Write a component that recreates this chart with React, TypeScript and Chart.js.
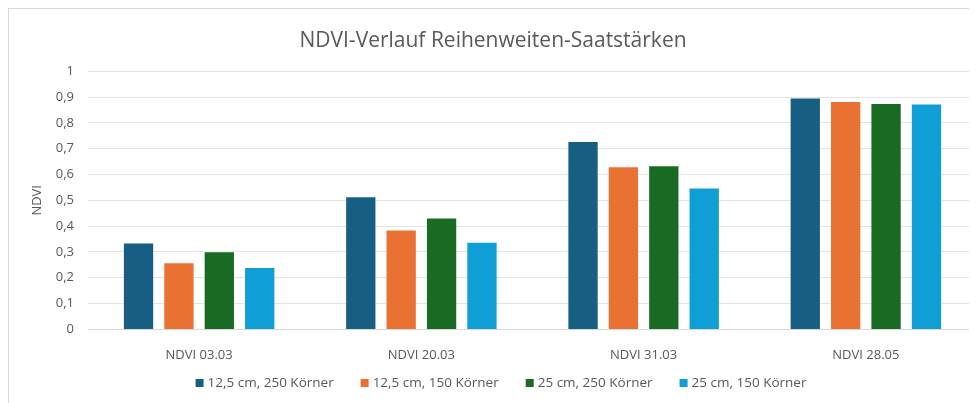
import React, { useEffect, useRef } from "react";
import { Chart, registerables } from "chart.js";

Chart.register(...registerables);

const categories = ["NDVI 03.03", "NDVI 20.03", "NDVI 31.03", "NDVI 28.05"];
const seriesNames = [
  "12,5 cm, 250 Körner",
  "12,5 cm, 150 Körner",
  "25 cm, 250 Körner",
  "25 cm, 150 Körner",
];
const s1 = [0.337, 0.516, 0.73, 0.898];
const s2 = [0.26, 0.387, 0.632, 0.885];
const s3 = [0.303, 0.433, 0.636, 0.877];
const s4 = [0.242, 0.339, 0.55, 0.875];
const colors = ["#175F82", "#E97132", "#196B24", "#0F9ED5"];
const titleText = "NDVI-Verlauf Reihenweiten-Saatstärken";
const yTitle = "NDVI";

const FONT = "'Open Sans', sans-serif";
const TXT = "#595959";
const FS = 13;
const LFS = 13.5;

const legendPlugin = {
  id: "bottomLegend",
  afterDraw(chart: any) {
    const ctx = chart.ctx;
    ctx.save();
    ctx.font = `${LFS}px ${FONT}`;
    ctx.textBaseline = "middle";
    const box = 8;
    const gapBox = 4;
    const gapItem = 27;
    const items = chart.data.datasets.map((d: any) => ({
      label: d.label,
      color: d.backgroundColor,
      w: box + gapBox + ctx.measureText(d.label).width,
    }));
    const total = items.reduce((a: number, it: any) => a + it.w, 0) + gapItem * (items.length - 1);
    let x = chart.width / 2 + 8 - total / 2;
    const y = 374;
    items.forEach((it: any) => {
      ctx.fillStyle = it.color;
      ctx.fillRect(x, y - box / 2, box, box);
      ctx.fillStyle = TXT;
      ctx.textAlign = "left";
      ctx.fillText(it.label, x + box + gapBox, y + 0.5);
      x += it.w + gapItem;
    });
    ctx.restore();
  },
};

export default function App() {
  const ref = useRef<HTMLCanvasElement>(null);
  useEffect(() => {
    if (!ref.current) return;
    const data = [s1, s2, s3, s4];
    const chart = new Chart(ref.current, {
      type: "bar",
      data: {
        labels: categories,
        datasets: seriesNames.map((n, i) => ({
          label: n,
          data: data[i],
          backgroundColor: colors[i],
          borderColor: "rgba(255,255,255,0.35)",
          borderWidth: 1,
          categoryPercentage: 0.727,
          barPercentage: 0.775,
        })),
      },
      plugins: [legendPlugin],
      options: {
        animation: false,
        responsive: false,
        maintainAspectRatio: false,
        layout: { padding: { left: 0, right: 0, top: 15, bottom: 30 } },
        plugins: {
          title: {
            display: true,
            text: titleText,
            color: TXT,
            font: { family: FONT, size: 21, weight: "normal" },
            padding: { top: 4, bottom: 18 },
          },
          legend: { display: false },
          tooltip: { enabled: false },
        },
        scales: {
          x: {
            grid: { display: false },
            border: { display: true, color: "#d9d9d9" },
            ticks: { color: TXT, font: { family: FONT, size: FS }, padding: 10 },
          },
          y: {
            min: 0,
            max: 1,
            afterFit: (s: any) => {
              s.width = 79;
            },
            ticks: {
              stepSize: 0.1,
              color: TXT,
              font: { family: FONT, size: FS },
              padding: 14,
              callback: (v: any) => (Math.round(Number(v) * 10) / 10).toString().replace(".", ","),
            },
            grid: { color: "#e3e3e3", drawTicks: false },
            border: { display: false },
            title: {
              display: true,
              text: yTitle,
              color: TXT,
              font: { family: FONT, size: FS },
              padding: { top: 20, bottom: 0 },
            },
          },
        },
      },
    });
    return () => chart.destroy();
  }, []);
  return (
    <div
      style={{
        width: 969,
        height: 395,
        borderTop: "1px solid #d9d9d9",
        borderLeft: "1px solid #d9d9d9",
        boxSizing: "border-box",
        position: "relative",
      }}
    >
      <canvas ref={ref} width={968} height={394} style={{ display: "block" }} />
    </div>
  );
}
